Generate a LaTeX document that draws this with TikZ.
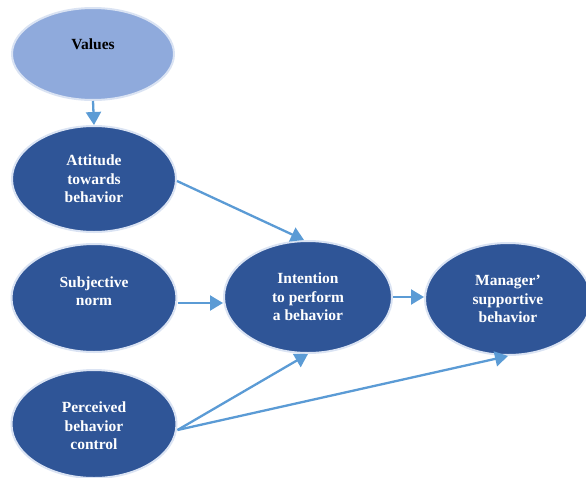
\documentclass[tikz,border=0pt]{standalone}
\usepackage{fontspec}
\setmainfont{Liberation Serif}
\usetikzlibrary{shapes.geometric,arrows.meta}
\definecolor{darkfill}{HTML}{2F5597}
\definecolor{lightfill}{HTML}{8FAADC}
\definecolor{rim}{HTML}{DAE3F3}
\definecolor{arrowblue}{HTML}{5B9BD5}
\tikzset{
  oval/.style={ellipse, draw=rim, line width=2pt, fill=darkfill, inner sep=0pt},
  ovaltext/.style={text=white, font=\bfseries\fontsize{15.5}{18.5}\selectfont, align=center},
  link/.style={draw=arrowblue, line width=2.3pt, -{Triangle[length=13pt,width=15pt]}}
}
\begin{document}
\begin{tikzpicture}[x=1pt,y=-1pt]
  \useasboundingbox (0,0) rectangle (586,477);
  % source constructs
  \node[oval, fill=lightfill, minimum width=162pt, minimum height=92pt] (val) at (93,54) {};
  \node[font=\bfseries\fontsize{15.5}{18.5}\selectfont] (valtxt) at (93,44) {Values};
  \node[oval, minimum width=164pt, minimum height=106pt] (att) at (94,179) {};
  \node[ovaltext] (atttxt) at (94,179) {Attitude\\towards\\behavior};
  \node[oval, minimum width=165pt, minimum height=108pt] (sub) at (94,298) {};
  \node[ovaltext] (subtxt) at (94,291) {Subjective\\norm};
  \node[oval, minimum width=165pt, minimum height=108pt] (per) at (94,424) {};
  \node[ovaltext] (pertxt) at (94,426) {Perceived\\behavior\\control};
  % intention and outcome
  \node[oval, minimum width=168pt, minimum height=112pt] (int) at (308,297) {};
  \node[ovaltext] (inttxt) at (308,297) {Intention\\to perform\\a behavior};
  \node[oval, minimum width=166pt, minimum height=112pt] (man) at (508,299) {};
  \node[ovaltext] (mantxt) at (508,299) {Manager’\\supportive\\behavior};
  % connectors
  \draw[link] (val.south) -- (att.north);
  \draw[link] ([yshift=-2pt]att.east) -- ([xshift=-4pt]int.north);
  \draw[link] ([yshift=-5pt]sub.east) -- ([yshift=-5pt]sub.east -| int.west);
  \draw[link] (int.east) -- (int.east -| man.west);
  \draw[link] ([yshift=-6pt]per.east) -- (int.south);
  \draw[link] ([yshift=-6pt]per.east) -- (man.south);
\end{tikzpicture}
\end{document}
